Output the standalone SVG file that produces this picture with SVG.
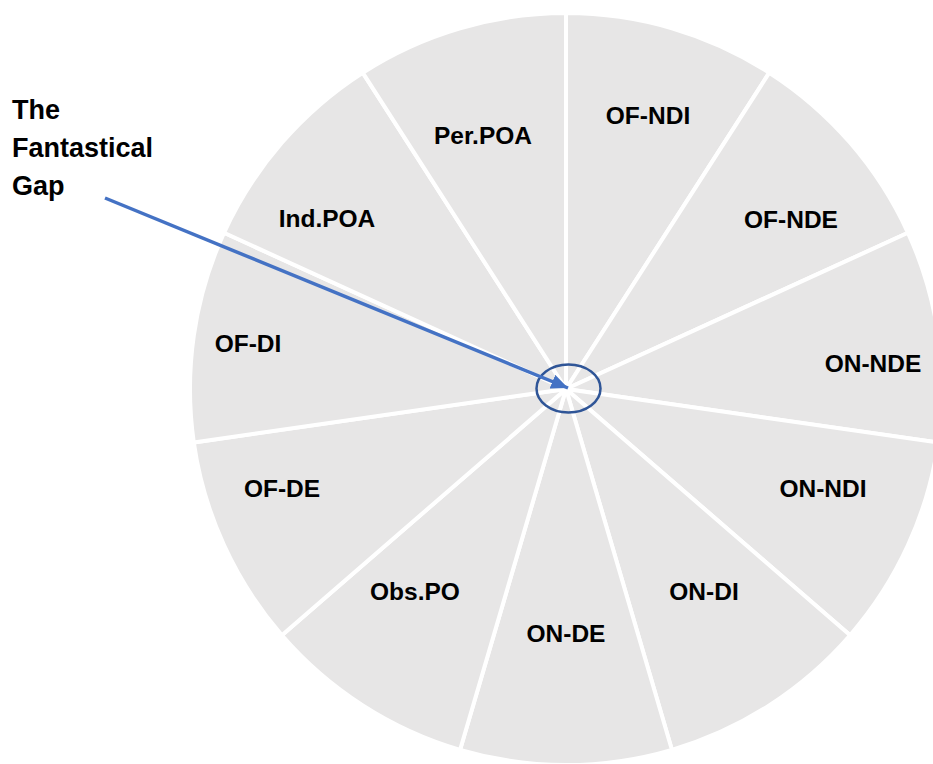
<svg xmlns="http://www.w3.org/2000/svg" width="933" height="764" viewBox="0 0 933 764">
<style>
.sec{fill:#E7E6E6;stroke:#FFFFFF;stroke-width:4;stroke-linejoin:round}
.lbl{font-family:"Liberation Sans",Arial,sans-serif;font-weight:bold;font-size:24.5px;fill:#000000;text-anchor:middle}
.ttl{font-family:"Liberation Sans",Arial,sans-serif;font-weight:bold;font-size:27px;fill:#000000}
</style>
<defs>
<marker id="ah" viewBox="0 0 10 10" refX="10" refY="5" markerWidth="4.8" markerHeight="4.2" orient="auto" markerUnits="strokeWidth" preserveAspectRatio="none">
<path d="M0,0 L10,5 L0,10 Z" fill="#4472C4"/>
</marker>
</defs>
<rect width="933" height="764" fill="#FFFFFF"/>
<g id="OF-NDI"><path class="sec" d="M566,389 L566,13 A376,376 0 0 1 769.3,72.7 Z"/><text class="lbl" x="648" y="124">OF-NDI</text></g>
<g id="OF-NDE"><path class="sec" d="M566,389 L769.3,72.7 A376,376 0 0 1 908.0,232.8 Z"/><text class="lbl" x="791" y="228">OF-NDE</text></g>
<g id="ON-NDE"><path class="sec" d="M566,389 L908.0,232.8 A376,376 0 0 1 938.2,442.5 Z"/><text class="lbl" x="873" y="372">ON-NDE</text></g>
<g id="ON-NDI"><path class="sec" d="M566,389 L938.2,442.5 A376,376 0 0 1 850.1,635.2 Z"/><text class="lbl" x="823" y="497">ON-NDI</text></g>
<g id="ON-DI"><path class="sec" d="M566,389 L850.1,635.2 A376,376 0 0 1 671.9,749.8 Z"/><text class="lbl" x="704" y="600">ON-DI</text></g>
<g id="ON-DE"><path class="sec" d="M566,389 L671.9,749.8 A376,376 0 0 1 460.1,749.8 Z"/><text class="lbl" x="566" y="642">ON-DE</text></g>
<g id="Obs.PO"><path class="sec" d="M566,389 L460.1,749.8 A376,376 0 0 1 281.9,635.2 Z"/><text class="lbl" x="415" y="600">Obs.PO</text></g>
<g id="OF-DE"><path class="sec" d="M566,389 L281.9,635.2 A376,376 0 0 1 193.8,442.5 Z"/><text class="lbl" x="282" y="497">OF-DE</text></g>
<g id="OF-DI"><path class="sec" d="M566,389 L193.8,442.5 A376,376 0 0 1 224.0,232.8 Z"/><text class="lbl" x="248" y="352">OF-DI</text></g>
<g id="Ind.POA"><path class="sec" d="M566,389 L224.0,232.8 A376,376 0 0 1 362.7,72.7 Z"/><text class="lbl" x="327" y="227">Ind.POA</text></g>
<g id="Per.POA"><path class="sec" d="M566,389 L362.7,72.7 A376,376 0 0 1 566,13 Z"/><text class="lbl" x="483" y="144">Per.POA</text></g>
<g id="gap-label">
<text class="ttl" x="12" y="119">The</text>
<text class="ttl" x="12" y="157">Fantastical</text>
<text class="ttl" x="12" y="195">Gap</text>
</g>
<g id="gap-marker"><ellipse cx="568.5" cy="388.5" rx="32" ry="24" fill="none" stroke="#2F5597" stroke-width="2.5"/></g>
<g id="connectors">
<line x1="105" y1="198" x2="568" y2="388" stroke="#4472C4" stroke-width="3.5" marker-end="url(#ah)"/>
</g>
</svg>
